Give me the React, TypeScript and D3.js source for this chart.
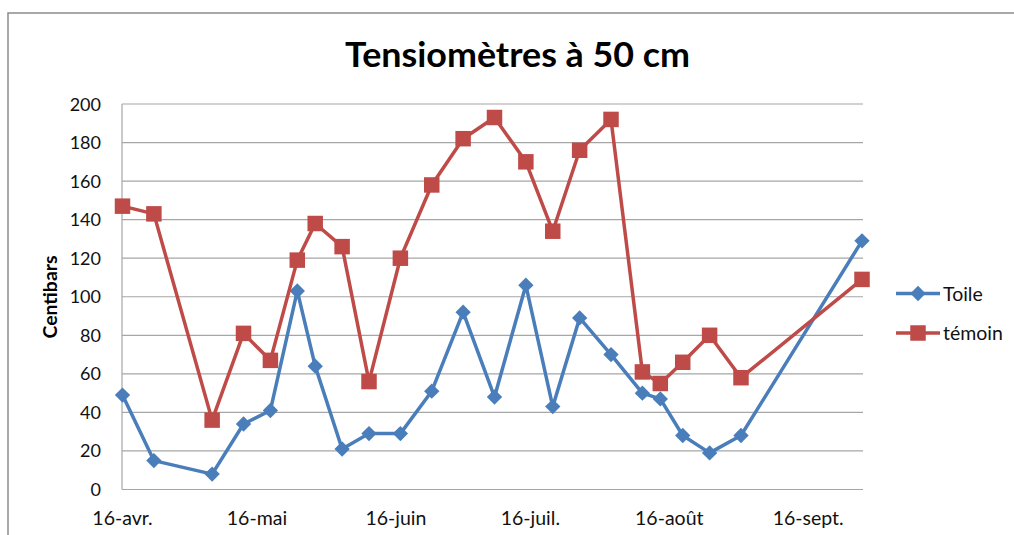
import React, { useEffect, useRef } from 'react';
import * as d3 from 'd3';

// measurement dates (day-month, same season)
const dates = [
  '2013-04-16', '2013-04-23', '2013-05-06', '2013-05-13', '2013-05-19', '2013-05-25',
  '2013-05-29', '2013-06-04', '2013-06-10', '2013-06-17', '2013-06-24', '2013-07-01',
  '2013-07-08', '2013-07-15', '2013-07-21', '2013-07-27', '2013-08-03', '2013-08-10',
  '2013-08-14', '2013-08-19', '2013-08-25', '2013-09-01', '2013-09-28',
];
const toile = [49, 15, 8, 34, 41, 103, 64, 21, 29, 29, 51, 92, 48, 106, 43, 89, 70, 50, 47, 28, 19, 28, 129];
const temoin = [147, 143, 36, 81, 67, 119, 138, 126, 56, 120, 158, 182, 193, 170, 134, 176, 192, 61, 55, 66, 80, 58, 109];
const xTicks = ['2013-04-16', '2013-05-16', '2013-06-16', '2013-07-16', '2013-08-16', '2013-09-16'];
const monthNames = ['janv.', 'févr.', 'mars', 'avr.', 'mai', 'juin', 'juil.', 'août', 'sept.', 'oct.', 'nov.', 'déc.'];
const yTicks = [0, 20, 40, 60, 80, 100, 120, 140, 160, 180, 200];

const W = 1014;
const H = 535;
const FONT = 'Lato, "Open Sans", sans-serif';

const parse = d3.timeParse('%Y-%m-%d');

export default function App() {
  const ref = useRef<SVGSVGElement | null>(null);

  useEffect(() => {
    const svg = d3.select(ref.current);
    svg.selectAll('*').remove();

    const left = 122.5, right = 862, top = 104, bottom = 489.5;

    const x = d3.scaleTime()
      .domain([parse(dates[0])!, parse(dates[dates.length - 1])!])
      .range([left, right]);
    const y = d3.scaleLinear().domain([0, 200]).range([bottom, top]);

    // chart border
    svg.append('rect')
      .attr('x', 8).attr('y', 13)
      .attr('width', W + 20).attr('height', H + 20)
      .attr('fill', '#fff')
      .attr('stroke', '#8c8c8c').attr('stroke-width', 1.5);

    svg.append('text')
      .attr('x', 517.5).attr('y', 67)
      .attr('text-anchor', 'middle')
      .attr('font-family', FONT).attr('font-weight', 700)
      .attr('font-size', 34.5)
      .attr('textLength', 345).attr('lengthAdjust', 'spacingAndGlyphs')
      .attr('fill', '#000')
      .text('Tensiomètres à 50 cm');

    // grid
    svg.append('g').selectAll('line')
      .data(yTicks)
      .enter().append('line')
      .attr('x1', left - 0.5).attr('x2', right + 1)
      .attr('y1', d => y(d)).attr('y2', d => y(d))
      .attr('stroke', '#a6a6a6').attr('stroke-width', 1.2);

    svg.append('line')
      .attr('x1', left - 0.5).attr('x2', left - 0.5)
      .attr('y1', top).attr('y2', bottom)
      .attr('stroke', '#a6a6a6').attr('stroke-width', 1.2);

    svg.append('g').selectAll('text')
      .data(yTicks)
      .enter().append('text')
      .attr('x', 101).attr('y', d => y(d) + 6.5)
      .attr('text-anchor', 'end')
      .attr('font-family', FONT).attr('font-size', 18)
      .attr('fill', '#111')
      .text(d => d);

    svg.append('g').selectAll('text')
      .data(xTicks)
      .enter().append('text')
      .attr('x', d => x(parse(d)!))
      .attr('y', 525)
      .attr('text-anchor', 'middle')
      .attr('font-family', FONT).attr('font-size', 19.5)
      .attr('fill', '#111')
      .text(d => {
        const t = parse(d)!;
        return t.getDate() + '-' + monthNames[t.getMonth()];
      });

    svg.append('text')
      .attr('transform', 'translate(56.5,297) rotate(-90)')
      .attr('text-anchor', 'middle')
      .attr('font-family', FONT).attr('font-weight', 700).attr('font-size', 18)
      .attr('textLength', 83).attr('lengthAdjust', 'spacingAndGlyphs')
      .attr('fill', '#000')
      .text('Centibars');

    const series = [
      { name: 'Toile', values: toile, color: '#4a7ebb', shape: d3.symbolDiamond2, size: 150 },
      { name: 'témoin', values: temoin, color: '#be4b48', shape: d3.symbolSquare, size: 240 },
    ];

    const line = d3.line<number>()
      .x((d, i) => x(parse(dates[i])!))
      .y(d => y(d));

    series.forEach((s, k) => {
      const g = svg.append('g');
      g.append('path')
        .datum(s.values)
        .attr('d', line)
        .attr('fill', 'none')
        .attr('stroke', s.color).attr('stroke-width', 3.5)
        .attr('stroke-linejoin', 'round');
      g.selectAll('path.m')
        .data(s.values)
        .enter().append('path')
        .attr('class', 'm')
        .attr('transform', (d, i) => `translate(${x(parse(dates[i])!)},${y(d)})`)
        .attr('d', d3.symbol(s.shape, s.size)())
        .attr('fill', s.color);

      // legend
      const ly = 293.5 + k * 39.5;
      svg.append('line')
        .attr('x1', 896).attr('x2', 940)
        .attr('y1', ly).attr('y2', ly)
        .attr('stroke', s.color).attr('stroke-width', 3.5);
      svg.append('path')
        .attr('transform', `translate(918,${ly})`)
        .attr('d', d3.symbol(s.shape, s.size)())
        .attr('fill', s.color);
      svg.append('text')
        .attr('x', 943).attr('y', ly + 7)
        .attr('font-family', FONT).attr('font-size', 19.5)
        .attr('fill', '#111')
        .text(s.name);
    });
  }, []);

  return (
    <svg ref={ref} width={W} height={H}
      style={{ position: 'absolute', left: 0, top: 0, background: '#fff' }} />
  );
}
